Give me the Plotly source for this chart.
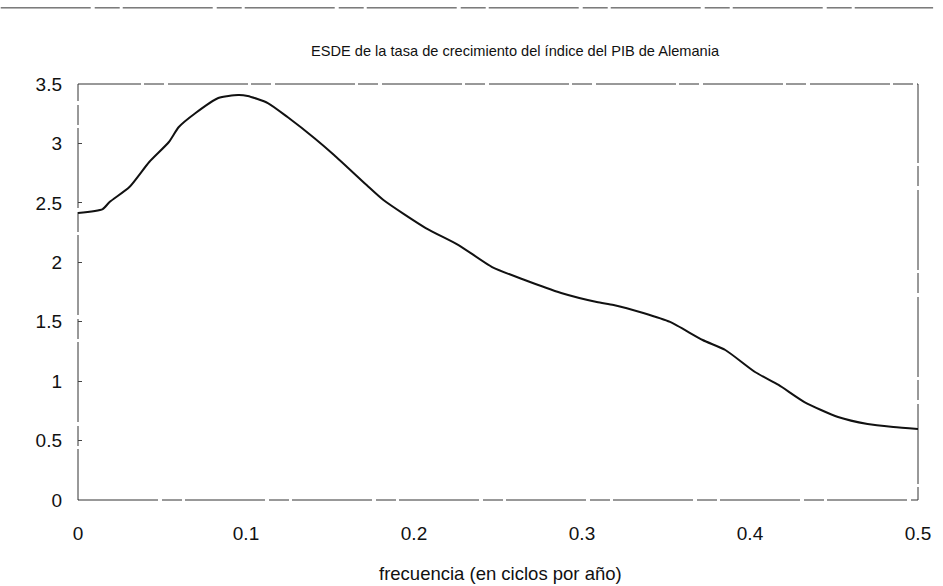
import plotly.graph_objects as go

# Data
frecuencia = [0.0, 0.0147, 0.0188, 0.0306, 0.0424, 0.0541, 0.060, 0.070, 0.0835, 0.0953,
              0.101, 0.113, 0.1247, 0.1406, 0.1524, 0.1718, 0.1818, 0.207, 0.2265, 0.2465,
              0.2659, 0.2876, 0.3088, 0.3188, 0.3365, 0.3524, 0.3718, 0.3853, 0.403, 0.417,
              0.4324, 0.4524, 0.470, 0.4853, 0.500]
esde = [2.415, 2.448, 2.507, 2.633, 2.844, 3.012, 3.138, 3.256, 3.382, 3.407,
        3.399, 3.340, 3.222, 3.046, 2.903, 2.650, 2.524, 2.288, 2.145, 1.960,
        1.851, 1.742, 1.666, 1.641, 1.573, 1.498, 1.346, 1.262, 1.077, 0.968,
        0.824, 0.698, 0.639, 0.614, 0.597]

x_ticks = [0, 0.1, 0.2, 0.3, 0.4, 0.5]
x_tick_labels = ["0", "0.1", "0.2", "0.3", "0.4", "0.5"]
y_ticks = [0, 0.5, 1, 1.5, 2, 2.5, 3, 3.5]
y_tick_labels = ["0", "0.5", "1", "1.5", "2", "2.5", "3", "3.5"]

title_text = "ESDE de la tasa de crecimiento del índice del PIB de Alemania"
x_title = "frecuencia (en ciclos por año)"

FONT = "Liberation Sans, Arial, sans-serif"

fig = go.Figure()
fig.add_trace(go.Scatter(
    x=frecuencia, y=esde, mode="lines",
    line=dict(color="#111111", width=2, shape="spline", smoothing=0.6),
    showlegend=False, hoverinfo="skip",
))

fig.update_layout(
    width=943, height=586,
    margin=dict(l=78, r=15, t=84, b=86),
    paper_bgcolor="white", plot_bgcolor="white",
    font=dict(family=FONT, color="#111111"),
    showlegend=False,
)

fig.update_xaxes(
    range=[0, 0.5], tickvals=x_ticks, ticktext=x_tick_labels,
    showgrid=False, zeroline=False, showline=False,
    ticks="", tickfont=dict(size=19, family=FONT, color="#111"),
    ticklabelstandoff=20,
)
fig.update_yaxes(
    range=[0, 3.5], tickvals=y_ticks, ticktext=y_tick_labels,
    showgrid=False, zeroline=False, showline=False,
    ticks="inside", ticklen=4, tickcolor="#444",
    tickfont=dict(size=19, family=FONT, color="#111"),
    ticklabelstandoff=15,
)

# Plot-area border (broken, scanned look)
fig.add_shape(type="rect", xref="paper", yref="paper", x0=0, y0=0, x1=1, y1=1,
              line=dict(color="#333333", width=1, dash="80px,4px,20px,3px"), layer="below")

# Top broken rule across page
fig.add_shape(type="line", xref="paper", yref="paper", x0=-0.092, x1=1.018, y0=1.183, y1=1.183,
              line=dict(color="#333333", width=1, dash="90px,4px,25px,3px"))

# Title
fig.add_annotation(text=title_text, xref="paper", yref="paper",
                   x=(521 - 78) / 850, y=(500 - 51) / 416, xanchor="center", yanchor="middle",
                   showarrow=False, font=dict(size=14.6, family=FONT, color="#111"))
# X axis title
fig.add_annotation(text=x_title, xref="paper", yref="paper",
                   x=(506 - 78) / 850, y=(500 - 573) / 416, xanchor="center", yanchor="middle",
                   showarrow=False, font=dict(size=18.5, family=FONT, color="#111"))

fig.write_html("out.html")
